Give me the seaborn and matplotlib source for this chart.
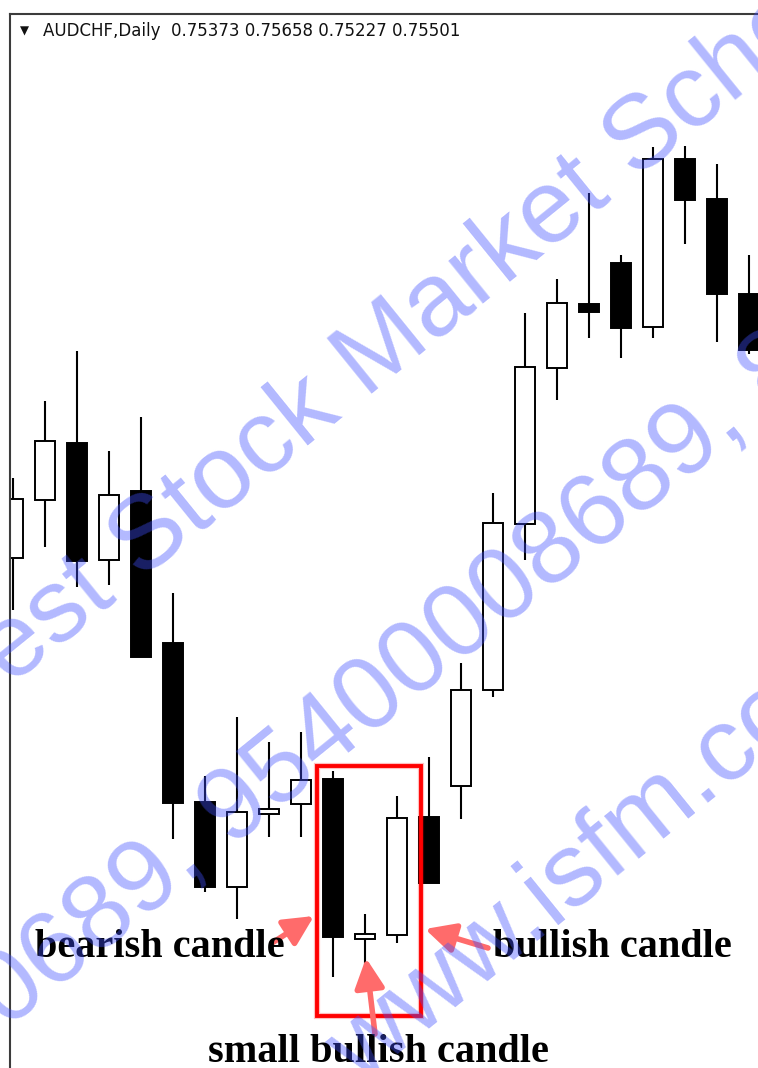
import numpy as np
import pandas as pd
import matplotlib
matplotlib.use("Agg")
import matplotlib.pyplot as plt
import seaborn as sns
from matplotlib.patches import Rectangle

# ---------------- data ----------------
symbol = "AUDCHF,Daily"
last_ohlc = ["0.75373", "0.75658", "0.75227", "0.75501"]

opens  = [0.76824, 0.77056, 0.77284, 0.76816, 0.77092, 0.76484, 0.75848, 0.75508,
          0.75800, 0.75840, 0.75940, 0.75300, 0.75316, 0.75788, 0.75912, 0.76296,
          0.76960, 0.77584, 0.77840, 0.78004, 0.77748, 0.78420, 0.78260, 0.77880]
highs  = [0.77144, 0.77452, 0.77652, 0.77252, 0.77388, 0.76684, 0.75952, 0.76188,
          0.76088, 0.76128, 0.75972, 0.75400, 0.75872, 0.76028, 0.76404, 0.77084,
          0.77804, 0.77940, 0.78284, 0.78036, 0.78468, 0.78472, 0.78400, 0.78036]
lows   = [0.76616, 0.76868, 0.76708, 0.76716, 0.76428, 0.75700, 0.75488, 0.75380,
          0.75708, 0.75708, 0.75148, 0.75112, 0.75284, 0.75524, 0.75780, 0.76268,
          0.76816, 0.77456, 0.77704, 0.77624, 0.77704, 0.78080, 0.77688, 0.77640]
closes = [0.77060, 0.77292, 0.76812, 0.77076, 0.76428, 0.75844, 0.75508, 0.75808,
          0.75820, 0.75936, 0.75308, 0.75320, 0.75784, 0.75524, 0.76296, 0.76964,
          0.77588, 0.77844, 0.77808, 0.77744, 0.78420, 0.78256, 0.77880, 0.77656]

label_texts = ["bearish candle", "bullish candle", "small bullish candle"]
watermark_lines = ["Best Stock Market School", "0689, 95400008689, 8", "www.isfm.com"]

# ---------------- style ----------------
sns.set_theme(style="white")
plt.rcParams['font.family'] = ['DejaVu Sans']

W, H = 758, 1068
fig = plt.figure(figsize=(W / 100, H / 100), dpi=100)
fig.patch.set_facecolor("white")

# main chart axes: frame starts at x=10px, y=14px
ax = fig.add_axes([10 / W, 0, (W - 10) / W, (H - 14) / H])
df = pd.DataFrame({"open": opens, "high": highs, "low": lows, "close": closes})
df["idx"] = np.arange(len(df))
df["bull"] = df["close"] >= df["open"]

ax.vlines(df["idx"], df["low"], df["high"], color="black", lw=1.5, zorder=1)
body_bottom = np.minimum(df["open"], df["close"])
body_height = np.abs(df["close"] - df["open"])
ax.bar(df["idx"], body_height, bottom=body_bottom, width=0.63,
       color=np.where(df["bull"], "white", "black"), edgecolor="black",
       linewidth=1.4, zorder=2)

ax.set_xlim(-0.09375, 23.28125)
ax.set_ylim(0.74784, 0.79)
ax.set_xticks([])
ax.set_yticks([])
ax.set_facecolor("white")
for side in ["right", "bottom"]:
    ax.spines[side].set_visible(False)
for side in ["left", "top"]:
    ax.spines[side].set_visible(True)
    ax.spines[side].set_color("#3c3c3c")
    ax.spines[side].set_linewidth(1.5)

# overlay axes in pixel coordinates (origin top-left) for annotations
ov = fig.add_axes([0, 0, 1, 1], facecolor="none")
ov.set_xlim(0, W)
ov.set_ylim(H, 0)
ov.axis("off")

ov.text(24, 31, "\u25BC", fontsize=8.5, ha="center", va="center", color="#111111")
ov.text(43, 31, symbol + "  " + " ".join(last_ohlc), fontsize=12,
        ha="left", va="center", color="#111111")

# red highlight rectangle
ov.add_patch(Rectangle((317, 766), 104, 250, fill=False, edgecolor="#ff0000",
                       lw=4.5, alpha=0.25, zorder=3))
ov.add_patch(Rectangle((317, 766), 104, 250, fill=False, edgecolor="#ff0000",
                       lw=2.8, zorder=3))

arrow_kw = dict(arrowstyle="-|>,head_length=0.9,head_width=0.45", color="#ff6b6b",
                lw=4, shrinkA=0, shrinkB=0, mutation_scale=20)
ov.annotate("", xy=(314, 916), xytext=(272, 943), arrowprops=arrow_kw, zorder=3)
ov.annotate("", xy=(425, 929), xytext=(488, 948), arrowprops=arrow_kw, zorder=3)
ov.annotate("", xy=(366, 958), xytext=(375, 1034), arrowprops=arrow_kw, zorder=3)

serif = dict(fontfamily=["Liberation Serif", "DejaVu Serif"], fontweight="bold",
             fontsize=29, color="black", ha="left", va="baseline", zorder=4)
ov.text(35, 957, label_texts[0], **serif)
ov.text(493, 957, label_texts[1], **serif)
ov.text(208, 1062, label_texts[2], **serif)

# watermark
wm = dict(rotation=39, rotation_mode="anchor", ha="left", va="baseline",
          fontsize=75, fontfamily=["Liberation Sans", "DejaVu Sans"],
          color="#4050ff", alpha=0.4, zorder=10)
ov.text(-44, 730, watermark_lines[0], **wm)
ov.text(7, 1031, watermark_lines[1], **wm)
ov.text(360, 1085, watermark_lines[2], **wm)

fig.savefig("out.png", dpi=100, facecolor="white")
